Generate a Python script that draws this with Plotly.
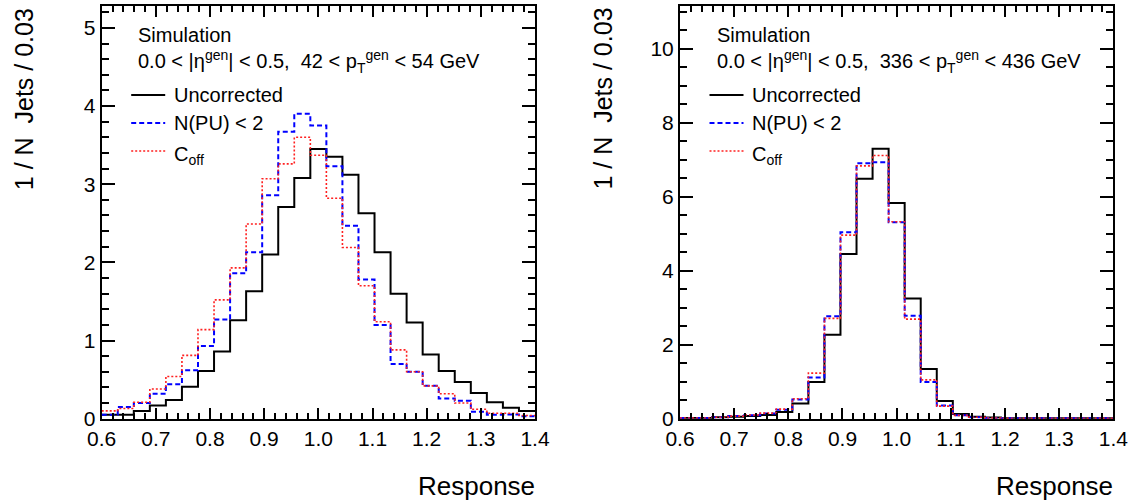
import numpy as np
import plotly.graph_objects as go
from plotly.subplots import make_subplots

# 27 bins between 0.6 and 1.4 (labelled "/ 0.03")
edges = np.linspace(0.6, 1.4, 28)

# left panel: 42 < pT < 54 GeV
low_uncorr = [0.05, 0.05, 0.10, 0.17, 0.24, 0.41, 0.61, 0.86, 1.26, 1.63, 2.10, 2.71, 3.08, 3.45,
              3.35, 3.12, 2.63, 2.13, 1.60, 1.23, 0.82, 0.61, 0.47, 0.33, 0.21, 0.14, 0.10]
low_pu = [0.05, 0.15, 0.20, 0.32, 0.44, 0.62, 0.93, 1.27, 1.86, 2.13, 2.86, 3.67, 3.90, 3.75,
          3.23, 2.47, 1.78, 1.20, 0.70, 0.60, 0.42, 0.26, 0.23, 0.09, 0.05, 0.055, 0.03]
low_coff = [0.10, 0.13, 0.21, 0.38, 0.54, 0.81, 1.14, 1.52, 1.93, 2.49, 3.07, 3.26, 3.60, 3.37,
            2.82, 2.19, 1.70, 1.24, 0.88, 0.60, 0.42, 0.32, 0.20, 0.12, 0.07, 0.07, 0.04]

# right panel: 336 < pT < 436 GeV
high_uncorr = [0.02, 0.02, 0.04, 0.05, 0.07, 0.10, 0.18, 0.41, 0.99, 2.27, 4.45, 6.48, 7.29, 5.83,
               3.25, 1.34, 0.48, 0.13, 0.05, 0.03, 0.01, 0.01, 0.01, 0.01, 0.01, 0.01, 0.01]
high_pu = [0.02, 0.02, 0.04, 0.07, 0.09, 0.14, 0.24, 0.52, 1.11, 2.77, 5.04, 6.90, 6.93, 5.31,
           2.78, 0.99, 0.36, 0.09, 0.04, 0.02, 0.01, 0.01, 0.01, 0.01, 0.01, 0.01, 0.01]
high_coff = [0.02, 0.02, 0.04, 0.07, 0.10, 0.15, 0.26, 0.54, 1.23, 2.71, 4.96, 6.83, 7.11, 5.32,
             2.69, 1.05, 0.34, 0.09, 0.04, 0.02, 0.01, 0.01, 0.01, 0.01, 0.01, 0.01, 0.01]

series_names = ["Uncorrected", "N(PU) < 2", "C<sub>off</sub>"]
pt_labels = ["42 < p<sub>T</sub><sup>gen</sup> < 54 GeV", "336 < p<sub>T</sub><sup>gen</sup> < 436 GeV"]

FONT = "Liberation Sans, Arial, Helvetica, sans-serif"
styles = [dict(color="black", width=2),
          dict(color="#0000ff", width=2, dash="5px,3px"),
          dict(color="#ff2020", width=1.6, dash="2px,2px")]

fig = make_subplots(rows=1, cols=2)

panels = [(low_uncorr, low_pu, low_coff), (high_uncorr, high_pu, high_coff)]
for col, hists in enumerate(panels, start=1):
    for name, vals, st in zip(series_names, hists, styles):
        fig.add_trace(go.Scatter(
            x=edges, y=list(vals) + [vals[-1]], mode="lines", line_shape="hv",
            line=st, name=name, showlegend=False),
            row=1, col=col)

W, H = 1132, 504
xdoms = [[101.7 / W, 535 / W], [680 / W, 1113.3 / W]]
ydom = [1 - 418.7 / H, 1 - 6 / H]
yranges = [[0, 5.28], [0, 11.15]]
ydticks = [(1, 0.2), (2, 0.5)]

common = dict(showline=True, linecolor="black", linewidth=2, mirror="allticks",
              ticks="inside", tickcolor="black", tickwidth=1.5, showgrid=False,
              zeroline=False, automargin=False,
              tickfont=dict(family=FONT, size=21, color="black"))

for i in range(2):
    fig.update_xaxes(domain=xdoms[i], range=[0.6, 1.4], tick0=0.6, dtick=0.1, tickformat=".1f",
                     ticklen=11, minor=dict(dtick=0.02, ticklen=6, ticks="inside",
                                            tickcolor="black", tickwidth=1.5),
                     **common, row=1, col=i + 1)
    fig.update_yaxes(domain=ydom, range=yranges[i], tick0=0, dtick=ydticks[i][0],
                     ticklen=13, minor=dict(dtick=ydticks[i][1], ticklen=7, ticks="inside",
                                            tickcolor="black", tickwidth=1.5),
                     **common, row=1, col=i + 1)

txt = dict(xref="paper", yref="paper", showarrow=False)
annotations = []
shapes = []
for i in range(2):
    x0 = xdoms[i][0] * W
    annotations.append(dict(text="Simulation", x=(x0 + 34.5) / W, y=1 - 35 / H,
                            xanchor="left", yanchor="middle",
                            font=dict(family=FONT, size=20, color="black"), **txt))
    annotations.append(dict(text="0.0 < |η<sup>gen</sup>| < 0.5,\u00a0 " + pt_labels[i],
                            x=(x0 + 34.5) / W, y=1 - 61 / H, xanchor="left", yanchor="middle",
                            font=dict(family=FONT, size=20, color="black"), **txt))
    annotations.append(dict(text="Response", x=536.5 / W if i == 0 else 1114.5 / W,
                            y=1 - 486 / H, xanchor="right", yanchor="middle",
                            font=dict(family=FONT, size=26, color="black"), **txt))
    annotations.append(dict(text="1 / N\u00a0 Jets / 0.03", x=(x0 - 77.5) / W, y=1 - 6 / H,
                            textangle=-90, xanchor="center", yanchor="top",
                            font=dict(family=FONT, size=25, color="black"), **txt))
    # legend: line sample + label for each series
    for k, (name, st) in enumerate(zip(series_names, styles)):
        yk = 95 + 28 * k
        shapes.append(dict(type="line", xref="paper", yref="paper",
                           x0=(x0 + 29.5) / W, x1=(x0 + 63.5) / W,
                           y0=1 - yk / H, y1=1 - yk / H, line=st))
        annotations.append(dict(text=name, x=(x0 + 70) / W,
                                y=1 - (yk + (4 if k == 2 else 0)) / H,
                                xanchor="left", yanchor="middle",
                                font=dict(family=FONT, size=20, color="black"), **txt))

fig.update_layout(
    width=W, height=H, margin=dict(l=0, r=0, t=0, b=0, autoexpand=False),
    plot_bgcolor="white", paper_bgcolor="white", showlegend=False,
    annotations=annotations, shapes=shapes,
)

fig.write_html("out.html", config={"displayModeBar": False},
               post_script="document.body.style.margin='0px';")
